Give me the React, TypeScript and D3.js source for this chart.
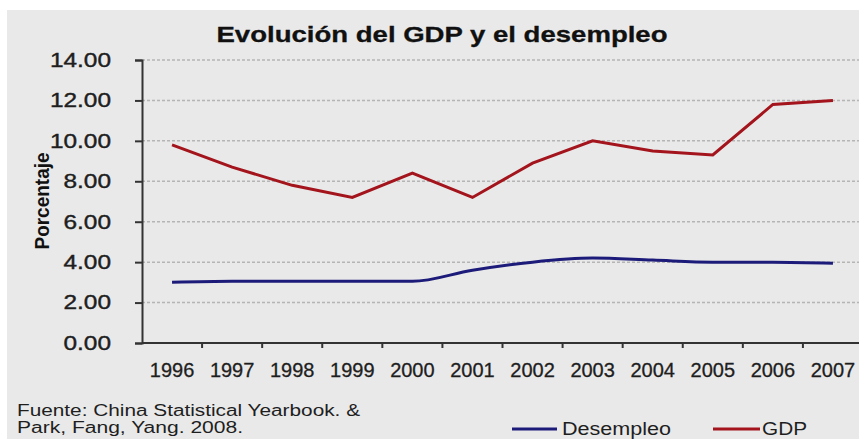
import React, { useEffect, useRef } from 'react';
import { axisBottom, axisLeft, curveMonotoneX, format, line, scaleBand, scaleLinear, select } from 'd3';

const years = ['1996', '1997', '1998', '1999', '2000', '2001', '2002', '2003', '2004', '2005', '2006', '2007'];
const gdp = [9.8, 8.7, 7.8, 7.2, 8.4, 7.2, 8.9, 10.0, 9.5, 9.3, 11.8, 12.0];
const desempleo = [3.0, 3.05, 3.05, 3.05, 3.05, 3.6, 4.0, 4.2, 4.1, 4.0, 4.0, 3.95];
const yTicks = [0, 2, 4, 6, 8, 10, 12, 14];

const font = '"Liberation Sans", Arial, sans-serif';
const W = 859, H = 439;
const margin = { top: 60, right: -4, bottom: 96, left: 142 };

export default function App() {
  const svgRef = useRef<SVGSVGElement>(null);

  const x = scaleBand().domain(years).range([margin.left, W - margin.right]).padding(0);
  const y = scaleLinear().domain([0, 14]).range([H - margin.bottom, margin.top]);
  const fmt = format('.2f');

  useEffect(() => {
    const svg = select(svgRef.current);

    const ya = svg.select<SVGGElement>('.y-axis')
      .attr('transform', `translate(${margin.left},0)`)
      .call(axisLeft(y).tickValues(yTicks).tickFormat(fmt).tickSize(7).tickPadding(24));
    ya.select('.domain').attr('stroke', '#333').attr('stroke-width', 2);
    ya.selectAll('.tick line').attr('stroke', '#333').attr('stroke-width', 2);
    // labels in the picture are a little wider than the font gives
    ya.selectAll<SVGTextElement, number>('.tick text')
      .attr('font-family', font).attr('font-size', 20).attr('fill', '#1e1e1e')
      .attr('stroke', '#1e1e1e').attr('stroke-width', 0.4)
      .attr('textLength', (d) => {
        const s = fmt(d);
        return ((s.length - 1) * 0.556 + 0.278) * 24.4;
      })
      .attr('lengthAdjust', 'spacingAndGlyphs');

    const xa = svg.select<SVGGElement>('.x-axis')
      .attr('transform', `translate(0,${y(0)})`)
      .call(axisBottom(x).tickSize(0).tickPadding(20));
    xa.select('.domain').remove();
    xa.selectAll('.tick text')
      .attr('font-family', font).attr('font-size', 20).attr('fill', '#1e1e1e')
      .attr('stroke', '#1e1e1e').attr('stroke-width', 0.3);
  }, []);

  const gdpLine = line<number>().x((_, i) => x(years[i])! + x.bandwidth() / 2).y((d) => y(d));
  const desLine = line<number>().x((_, i) => x(years[i])! + x.bandwidth() / 2).y((d) => y(d)).curve(curveMonotoneX);

  return (
    <>
      <style>{'body{margin:0;overflow:hidden}'}</style>
      <svg ref={svgRef} width={W} height={H} style={{ display: 'block', background: '#fff' }}>
        <rect x={7} y={10} width={W - 7} height={H - 10} fill="#e9e9e9" />
        {yTicks.filter((t) => t > 0).map((t) => (
          <line key={t} x1={margin.left} x2={W} y1={y(t)} y2={y(t)} stroke="#b5b5b5" strokeWidth={1.5} strokeDasharray="3,2" />
        ))}
        <line x1={margin.left} x2={W} y1={y(0)} y2={y(0)} stroke="#333" strokeWidth={2} />
        {years.slice(1).map((yr) => (
          <line key={yr} x1={x(yr)} x2={x(yr)} y1={y(0)} y2={y(0) + 5} stroke="#333" strokeWidth={2} />
        ))}
        <g className="y-axis" />
        <g className="x-axis" />
        <path d={desLine(desempleo)!} fill="none" stroke="#1c1b7a" strokeWidth={3} />
        <path d={gdpLine(gdp)!} fill="none" stroke="#a3141c" strokeWidth={3} />

        <text x={442} y={42} textAnchor="middle" fontFamily={font} fontWeight="bold" fontSize={22}
          textLength={451} lengthAdjust="spacingAndGlyphs" fill="#111" stroke="#111" strokeWidth={0.3}>Evolución del GDP y el desempleo</text>
        <text transform="translate(49,201) rotate(-90)" textAnchor="middle" fontFamily={font} fontWeight="bold"
          fontSize={20} textLength={97} lengthAdjust="spacingAndGlyphs" fill="#111">Porcentaje</text>

        <text x={17} y={416} fontFamily={font} fontSize={16} textLength={343} lengthAdjust="spacingAndGlyphs" fill="#1e1e1e">Fuente: China Statistical Yearbook. &amp;</text>
        <text x={17} y={433} fontFamily={font} fontSize={16} textLength={226} lengthAdjust="spacingAndGlyphs" fill="#1e1e1e">Park, Fang, Yang. 2008.</text>

        <line x1={512} x2={557} y1={429} y2={429} stroke="#1c1b7a" strokeWidth={3} />
        <text x={562} y={435} fontFamily={font} fontSize={18} textLength={109} lengthAdjust="spacingAndGlyphs" fill="#1e1e1e">Desempleo</text>
        <line x1={713} x2={760} y1={429} y2={429} stroke="#a3141c" strokeWidth={3} />
        <text x={762} y={435} fontFamily={font} fontSize={18} textLength={45} lengthAdjust="spacingAndGlyphs" fill="#1e1e1e">GDP</text>
      </svg>
    </>
  );
}
